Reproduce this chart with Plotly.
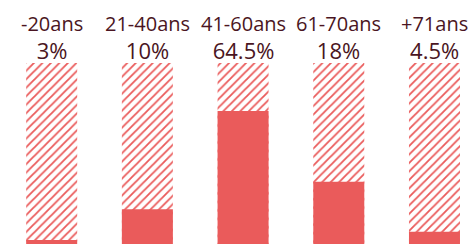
import plotly.graph_objects as go

categories = ["-20ans", "21-40ans", "41-60ans", "61-70ans", "+71ans"]
value_labels = ["3%", "10%", "64.5%", "18%", "4.5%"]
# drawn fill level of each column (% of column height)
fill_levels = [2.2, 19.2, 73.5, 34.4, 6.8]
column_full = [100, 100, 100, 100, 100]

RED = "#EA5B5B"
TXT = "#4A1522"
FONT = "Open Sans"

fig = go.Figure()
fig.add_trace(go.Bar(
    x=categories, y=column_full, width=0.533,
    marker=dict(color="white", line=dict(width=0),
                pattern=dict(shape="/", fgcolor=RED, bgcolor="white", fgopacity=1,
                             size=6, solidity=0.3, fillmode="replace")),
    hoverinfo="skip", showlegend=False))
fig.add_trace(go.Bar(
    x=categories, y=fill_levels, width=0.533,
    marker=dict(color=RED, line=dict(width=0)),
    showlegend=False))

for c, v in zip(categories, value_labels):
    label = ("<span style='font-size:20px'>%s</span><br>"
             "<span style='font-size:22px'>%s</span>") % (c, v)
    fig.add_annotation(x=c, y=1.143, xref="x", yref="paper", text=label,
                       showarrow=False, align="center",
                       font=dict(family=FONT, size=21.5, color=TXT),
                       xanchor="center", yanchor="middle")

fig.update_layout(
    width=474, height=244,
    margin=dict(l=0, r=0, t=63, b=0, pad=0),
    barmode="overlay",
    plot_bgcolor="white", paper_bgcolor="white",
    xaxis=dict(type="category", range=[-0.540, 4.413], visible=False, fixedrange=True),
    yaxis=dict(range=[0, 100], visible=False, fixedrange=True),
)

fig.write_html("out.html", config={"displayModeBar": False},
               post_script="document.body.style.margin='0';document.body.style.overflow='hidden';")
